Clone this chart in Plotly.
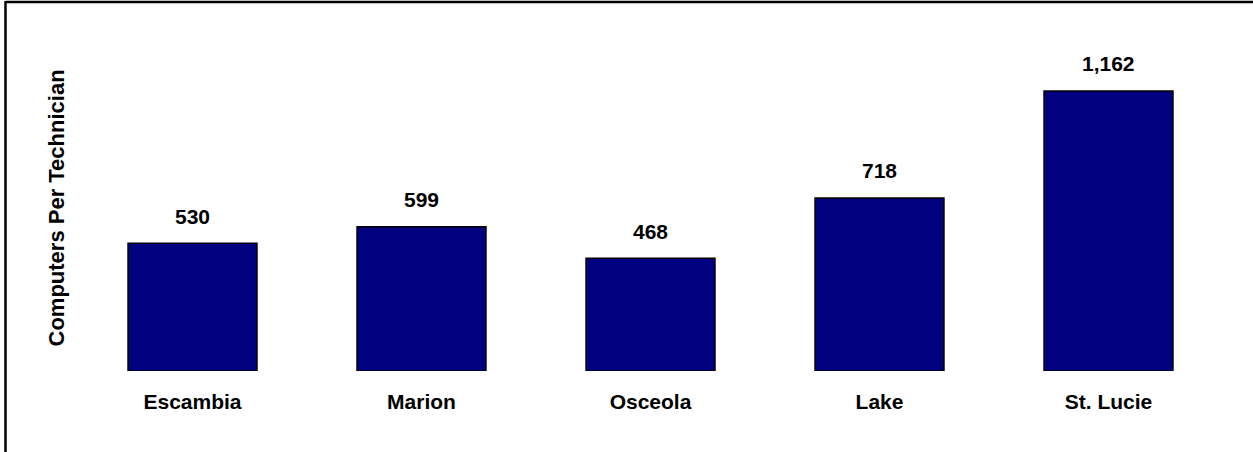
import plotly.graph_objects as go

categories = ["Escambia", "Marion", "Osceola", "Lake", "St. Lucie"]
values = [530, 599, 468, 718, 1162]
value_labels = ["530", "599", "468", "718", "1,162"]
y_title = "Computers Per Technician"

FONT = "Liberation Sans, Arial, sans-serif"
W, H = 1253, 452
L, R, T, B = 78, 30, 30, 81
plot_h = H - T - B
plot_w = W - L - R

fig = go.Figure()
fig.add_trace(go.Bar(
    x=categories, y=values,
    marker=dict(color="#000080", line=dict(color="#000000", width=1.5)),
    hoverinfo="skip",
))

for c, v, t in zip(categories, values, value_labels):
    fig.add_annotation(x=c, y=v, text=f"<b>{t}</b>", showarrow=False,
                       yanchor="middle", yshift=27,
                       font=dict(family=FONT, size=21, color="#000000"))

fig.add_annotation(xref="paper", yref="paper", x=(56 - L) / plot_w,
                   y=(H - B - 208.5) / plot_h, text=f"<b>{y_title}</b>",
                   textangle=-90, showarrow=False, xanchor="center", yanchor="middle",
                   font=dict(family=FONT, size=22, color="#000000"))

# border lines (top and left)
fig.add_shape(type="line", xref="paper", yref="paper",
              x0=(5.5 - L) / plot_w, x1=(W + 5 - L) / plot_w,
              y0=(H - B - 2) / plot_h, y1=(H - B - 2) / plot_h,
              line=dict(color="#000000", width=2.5))
fig.add_shape(type="line", xref="paper", yref="paper",
              x0=(5.5 - L) / plot_w, x1=(5.5 - L) / plot_w,
              y0=(H - B - 1) / plot_h, y1=(H - B - H - 5) / plot_h,
              line=dict(color="#000000", width=2.5))

fig.update_layout(
    width=W, height=H,
    margin=dict(l=L, r=R, t=T, b=B),
    paper_bgcolor="white", plot_bgcolor="white",
    showlegend=False,
    bargap=0.437,
    font=dict(family=FONT, size=21, color="#000000"),
    xaxis=dict(showline=False, showgrid=False, zeroline=False,
               ticks="outside", ticklen=12, tickcolor="rgba(0,0,0,0)",
               tickfont=dict(family=FONT, size=21, color="#000000"),
               tickvals=categories, ticktext=[f"<b>{c}</b>" for c in categories]),
    yaxis=dict(range=[0, 1415], visible=False, showgrid=False, zeroline=False),
)

fig.write_html("out.html", config={"displayModeBar": False},
               post_script="document.body.style.margin='0';document.body.style.overflow='hidden';")
